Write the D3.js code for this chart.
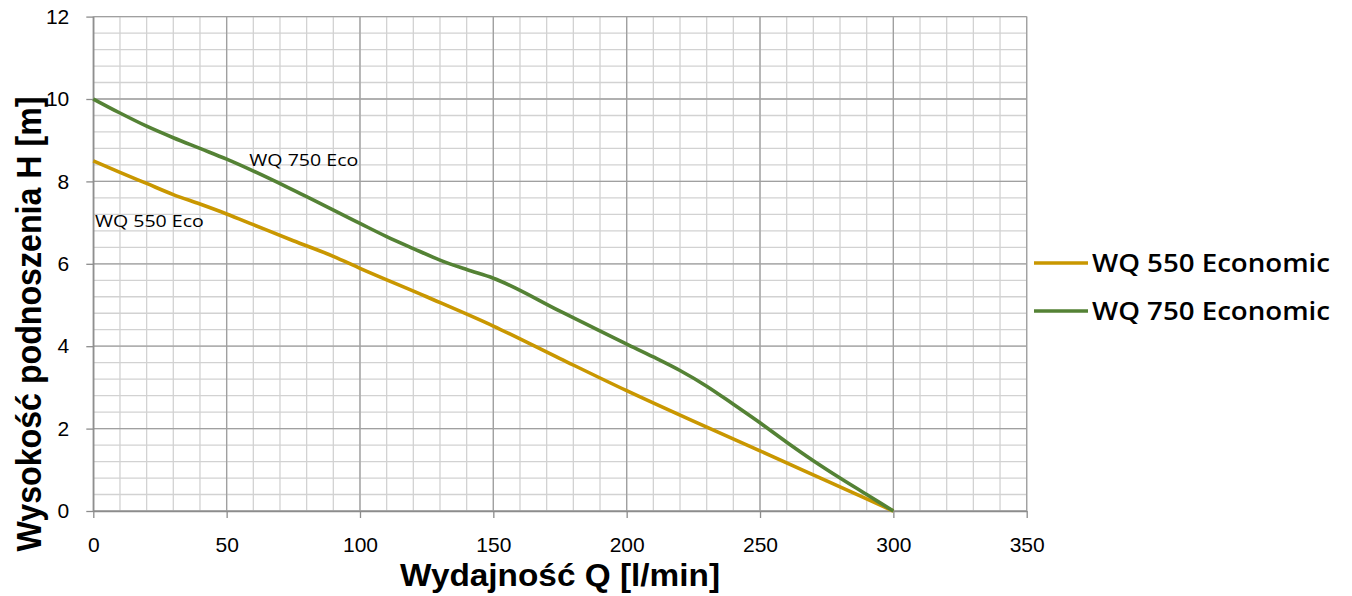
<!DOCTYPE html>
<html>
<head>
<meta charset="utf-8">
<script src="https://cdn.jsdelivr.net/npm/d3@7"></script>
<style>
  body { margin: 0; background: #fff; }
  svg { display: block; }
  .tick text { font-family: "Liberation Sans", Arial, sans-serif; }
</style>
</head>
<body>
<div id="chart"></div>
<script>
// flow rate Q [l/min] and head H [m]
var flowQ550 = [0, 10, 20, 30, 40, 50, 60, 75, 90, 100, 125, 150, 175, 200, 225, 250, 275, 300];
var head550  = [8.5, 8.22, 7.95, 7.68, 7.45, 7.21, 6.95, 6.56, 6.18, 5.89, 5.2, 4.49, 3.7, 2.92, 2.18, 1.46, 0.73, 0];

var flowQ750 = [0, 10, 20, 30, 40, 50, 75, 100, 110, 120, 130, 140, 150, 175, 200, 210, 220, 230, 240, 250, 260, 270, 280, 290, 300];
var head750  = [10, 9.66, 9.34, 9.06, 8.8, 8.54, 7.79, 6.98, 6.66, 6.37, 6.09, 5.86, 5.65, 4.85, 4.05, 3.74, 3.41, 3.03, 2.59, 2.14, 1.67, 1.22, 0.8, 0.4, 0];

var seriesNames  = ["WQ 550 Economic", "WQ 750 Economic"];
var seriesShort  = ["WQ 550 Eco", "WQ 750 Eco"];
var seriesColors = ["#c99700", "#548235"];

var xTicks = [0, 50, 100, 150, 200, 250, 300, 350];
var yTicks = [0, 2, 4, 6, 8, 10, 12];

var W = 1352, H = 596;
var margin = { left: 93.3, top: 16.6, right: 1352 - 1026.7, bottom: 596 - 511 };
var pw = W - margin.left - margin.right, ph = H - margin.top - margin.bottom;

var svg = d3.select("#chart").append("svg").attr("width", W).attr("height", H);
var g = svg.append("g").attr("transform", "translate(" + margin.left + "," + margin.top + ")");

var x = d3.scaleLinear().domain([0, 350]).range([0, pw]);
var y = d3.scaleLinear().domain([0, 12]).range([ph, 0]);

// minor grid
g.append("g").selectAll("line").data(d3.range(0, 351, 10)).enter().append("line")
    .attr("x1", function(d) { return x(d); }).attr("x2", function(d) { return x(d); })
    .attr("y1", 0).attr("y2", ph)
    .attr("stroke", "#d2d2d2").attr("stroke-width", 1.3);
g.append("g").selectAll("line").data(d3.range(0, 30.5, 1).map(function(i) { return i * 0.4; })).enter().append("line")
    .attr("y1", function(d) { return y(d); }).attr("y2", function(d) { return y(d); })
    .attr("x1", 0).attr("x2", pw)
    .attr("stroke", "#d2d2d2").attr("stroke-width", 1.3);

// major grid
g.append("g").selectAll("line").data(xTicks).enter().append("line")
    .attr("x1", function(d) { return x(d); }).attr("x2", function(d) { return x(d); })
    .attr("y1", 0).attr("y2", ph)
    .attr("stroke", "#a0a0a0").attr("stroke-width", 1.3);
g.append("g").selectAll("line").data(yTicks).enter().append("line")
    .attr("y1", function(d) { return y(d); }).attr("y2", function(d) { return y(d); })
    .attr("x1", 0).attr("x2", pw)
    .attr("stroke", "#a0a0a0").attr("stroke-width", 1.3);

// axes
var xAxis = g.append("g").attr("transform", "translate(0," + ph + ")")
    .call(d3.axisBottom(x).tickValues(xTicks).tickSize(7).tickPadding(19).tickSizeOuter(0));
var yAxis = g.append("g")
    .call(d3.axisLeft(y).tickValues(yTicks).tickSize(7).tickPadding(17).tickSizeOuter(0));
[xAxis, yAxis].forEach(function(a) {
    a.select(".domain").attr("stroke", "#8c8c8c").attr("stroke-width", 1.3);
    a.selectAll(".tick line").attr("stroke", "#8c8c8c").attr("stroke-width", 1.3);
    a.selectAll(".tick text").attr("font-size", 21).attr("fill", "#000");
});

// curves
var line = d3.line().curve(d3.curveMonotoneX)
    .x(function(d) { return x(d[0]); }).y(function(d) { return y(d[1]); });
var curves = [d3.zip(flowQ550, head550), d3.zip(flowQ750, head750)];
curves.forEach(function(c, i) {
    g.append("path").datum(c).attr("d", line)
        .attr("fill", "none").attr("stroke", seriesColors[i])
        .attr("stroke-width", 3.6).attr("stroke-linejoin", "round");
});

// curve labels (left x in data units, baseline y in px)
var labelAt = [[0.6, 227.3], [58.5, 166]];
labelAt.forEach(function(p, i) {
    svg.append("text").attr("x", margin.left + x(p[0])).attr("y", p[1])
        .attr("font-family", "'Open Sans', sans-serif").attr("font-weight", 500).attr("font-size", 16.5)
        .attr("textLength", 109).attr("lengthAdjust", "spacingAndGlyphs")
        .attr("fill", "#000").text(seriesShort[i]);
});

// legend
seriesNames.forEach(function(n, i) {
    var ly = 263 + i * 48;
    svg.append("line").attr("x1", 1034).attr("x2", 1088).attr("y1", ly).attr("y2", ly)
        .attr("stroke", seriesColors[i]).attr("stroke-width", 3.6);
    svg.append("text").attr("x", 1092).attr("y", ly + 9)
        .attr("font-family", "'Open Sans', sans-serif").attr("font-weight", 600).attr("font-size", 25)
        .attr("textLength", 238).attr("lengthAdjust", "spacingAndGlyphs")
        .attr("fill", "#000").text(n);
});

// axis titles
svg.append("text").attr("x", 560).attr("y", 586).attr("text-anchor", "middle")
    .attr("font-family", "'Liberation Sans', Arial, sans-serif").attr("font-weight", 700).attr("font-size", 31.5)
    .attr("textLength", 320).attr("lengthAdjust", "spacingAndGlyphs")
    .text("Wydajność Q [l/min]");
svg.append("text").attr("transform", "translate(41,324) rotate(-90)").attr("text-anchor", "middle")
    .attr("font-family", "'Liberation Sans', Arial, sans-serif").attr("font-weight", 700).attr("font-size", 35)
    .attr("textLength", 455).attr("lengthAdjust", "spacingAndGlyphs")
    .text("Wysokość podnoszenia H [m]");
</script>
</body>
</html>
